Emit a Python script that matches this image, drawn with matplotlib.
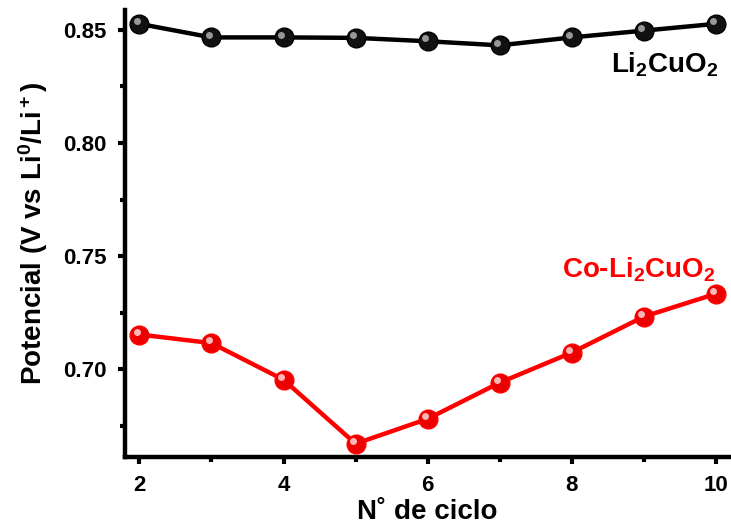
import matplotlib
matplotlib.use('Agg')
import matplotlib.pyplot as plt
import matplotlib.transforms as mtransforms
from matplotlib.ticker import MultipleLocator, FormatStrFormatter

plt.rcParams['font.family'] = 'Liberation Sans'
plt.rcParams['font.weight'] = 'bold'
plt.rcParams['axes.labelweight'] = 'bold'
plt.rcParams['mathtext.fontset'] = 'custom'
plt.rcParams['mathtext.rm'] = 'Liberation Sans:bold'
plt.rcParams['mathtext.it'] = 'Liberation Sans:bold'
plt.rcParams['mathtext.bf'] = 'Liberation Sans:bold'

cycles = [2, 3, 4, 5, 6, 7, 8, 9, 10]
li2cuo2 = [0.8527, 0.8467, 0.8467, 0.8465, 0.8450, 0.8432, 0.8467, 0.8497, 0.8527]
co_li2cuo2 = [0.7153, 0.7115, 0.6953, 0.6670, 0.6780, 0.6940, 0.7073, 0.7232, 0.7333]

fig = plt.figure(figsize=(7.31, 5.29), dpi=100)
# axes box in figure fractions: spines at x=125px, y=457px
ax = fig.add_axes([0.171, 0.136, 0.826, 0.845])

# spheres: dark base + light highlight shifted up-left
hl = mtransforms.offset_copy(ax.transData, fig=fig, x=-2, y=2, units='points')
ax.plot(cycles, li2cuo2, '-o', color='black', lw=3.2, ms=13.5, mfc='#111111', mec='black', zorder=3)
ax.plot(cycles, li2cuo2, 'o', ms=5, mfc='#a8a8a8', mec='none', alpha=0.9, transform=hl, zorder=4)
ax.plot(cycles, co_li2cuo2, '-o', color='#ff0000', lw=3.2, ms=13.5, mfc='#ee0000', mec='#ff0000', zorder=3)
ax.plot(cycles, co_li2cuo2, 'o', ms=5, mfc='#ffcccc', mec='none', alpha=0.9, transform=hl, zorder=4)

ax.text(10.03, 0.8345, 'Li$_2$CuO$_2$', ha='right', va='center', fontsize=20, color='black')
ax.text(9.99, 0.7438, 'Co-Li$_2$CuO$_2$', ha='right', va='center', fontsize=20, color='#ff0000')

ax.set_xlim(1.8, 10.18)
ax.set_ylim(0.6611, 0.8588)
ax.xaxis.set_major_locator(MultipleLocator(2))
ax.xaxis.set_minor_locator(MultipleLocator(1))
ax.yaxis.set_major_locator(MultipleLocator(0.05))
ax.yaxis.set_minor_locator(MultipleLocator(0.025))
ax.yaxis.set_major_formatter(FormatStrFormatter('%.2f'))

for s in ['top', 'right']:
    ax.spines[s].set_visible(False)
for s in ['left', 'bottom']:
    ax.spines[s].set_linewidth(3.2)

ax.tick_params(which='major', direction='out', length=5, width=3, labelsize=16, pad=8)
ax.tick_params(which='minor', direction='out', length=3.5, width=3)

ax.set_xlabel('N\u02da de ciclo', fontsize=20, labelpad=2)
ax.set_ylabel('Potencial (V vs Li$^0$/Li$^+$)', fontsize=20, labelpad=10)

fig.savefig('out.png', dpi=100)
